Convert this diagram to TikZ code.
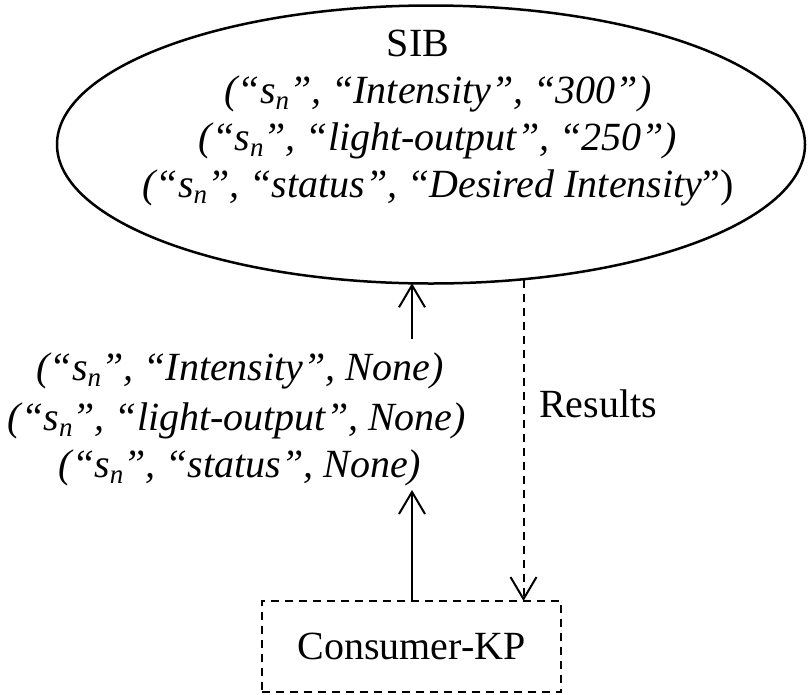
\documentclass[tikz,border=0pt]{standalone}
\usepackage{fontspec}
\setmainfont{Liberation Serif}
\usetikzlibrary{arrows.meta,shapes.geometric}
% italic subscript n used in the triple subjects
\newcommand\subn{\raisebox{-6pt}{\fontsize{27}{27}\selectfont n}}
\newcommand\subj{“s\subn”}
\begin{document}
\begin{tikzpicture}[x=1pt,y=-1pt,
  txt/.style={font=\fontsize{40}{47}\selectfont, inner sep=0pt, anchor=base},
  itxt/.style={txt, font=\fontsize{40}{47}\selectfont\itshape},
  arr/.style={line width=2pt, -{Straight Barb[length=22pt,width=26pt,line width=2pt]}},
  dsh/.style={line width=2pt, dash pattern=on 8pt off 6pt}]
\useasboundingbox (0,0) rectangle (811,694);

% Smart space (SIB) with its stored triples
\node[draw, ellipse, line width=2.5pt, minimum width=748pt, minimum height=278pt, inner sep=0pt] (sib) at (431,144.5) {};
\node[txt]  (sibname) at (418,56)  {SIB};
\node[itxt] (t1) at (438,103) {(\subj, “Intensity”, “300”)};
\node[itxt] (t2) at (438,150) {(\subj, “light-output”, “250”)};
\node[itxt] (t3) at (438,197) {(\subj, “status”, “Desired Intensity\upshape”)};

% Consumer knowledge processor
\node[draw, dsh, minimum width=299pt, minimum height=91pt, inner sep=0pt, font=\fontsize{40}{47}\selectfont] (kp) at (411.5,646.5) {Consumer-KP};

% Query triples
\node[itxt] (q1) at (240,380) {(\subj, “Intensity”, None)};
\node[itxt] (q2) at (237,430) {(\subj, “light-output”, None)};
\node[itxt] (q3) at (240,477) {(\subj, “status”, None)};

\node[txt, anchor=base west] (res) at (539,417) {Results};

% Connectors
\coordinate (kpq) at (412,601);
\coordinate (qlow) at (412,490);
\coordinate (qup) at (412,339);
\coordinate (sibq) at (412,283.3);
\coordinate (sibr) at (523.5,280);
\coordinate (kpr) at (523.5,601);
\draw[arr] (kpq) -- (qlow);
\draw[arr] (qup) -- (sibq);
\draw[dsh, -{Straight Barb[length=22pt,width=26pt,line width=2pt]}] (sibr) -- (kpr);
\end{tikzpicture}
\end{document}
